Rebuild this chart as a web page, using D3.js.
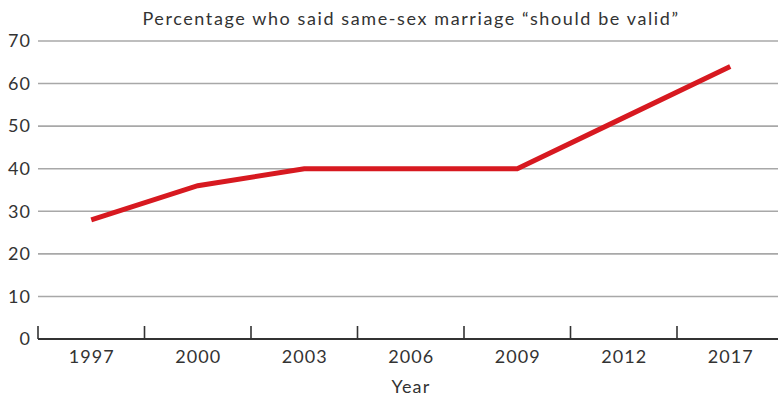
<!DOCTYPE html>
<html>
<head>
<meta charset="utf-8">
<script src="https://cdn.jsdelivr.net/npm/d3@7"></script>
<style>
  html, body { margin: 0; padding: 0; background: #fff; }
  svg { display: block; font-family: Lato, "Open Sans", sans-serif; }
</style>
</head>
<body>
<svg id="chart" width="778" height="398"></svg>
<script>
// Survey years and share (%) saying same-sex marriage "should be valid"
const years = ["1997", "2000", "2003", "2006", "2009", "2012", "2017"];
const values = [28, 36, 40, 40, 40, 52, 64];
const yTicks = [0, 10, 20, 30, 40, 50, 60, 70];
const titleText = "Percentage who said same-sex marriage \u201cshould be valid\u201d";
const xTitle = "Year";

const plot = { left: 38, right: 778, top: 41, bottom: 339 };
const band = 106.5;
const fontSize = 18;

const svg = d3.select("#chart");

const x = d3.scaleBand()
  .domain(years)
  .range([plot.left, plot.left + band * years.length])
  .paddingInner(0).paddingOuter(0);

const y = d3.scaleLinear().domain([0, 70]).range([plot.bottom, plot.top]);

// horizontal gridlines
svg.append("g")
  .selectAll("line")
  .data(yTicks.filter(d => d > 0))
  .join("line")
  .attr("x1", plot.left).attr("x2", plot.right)
  .attr("y1", d => y(d)).attr("y2", d => y(d))
  .attr("stroke", "#a8a8a8")
  .attr("stroke-width", 1.6);

// y tick labels
svg.append("g")
  .selectAll("text")
  .data(yTicks)
  .join("text")
  .attr("x", 31)
  .attr("y", d => y(d))
  .attr("dy", "0.35em")
  .attr("text-anchor", "end")
  .attr("font-size", fontSize)
  .attr("letter-spacing", 1)
  .attr("fill", "#333")
  .text(d => d);

// x axis baseline with tick marks at band boundaries
svg.append("line")
  .attr("x1", plot.left).attr("x2", plot.right)
  .attr("y1", plot.bottom).attr("y2", plot.bottom)
  .attr("stroke", "#333").attr("stroke-width", 2);

svg.append("g")
  .selectAll("line")
  .data(years)
  .join("line")
  .attr("x1", d => x(d)).attr("x2", d => x(d))
  .attr("y1", plot.bottom - 13).attr("y2", plot.bottom)
  .attr("stroke", "#333").attr("stroke-width", 1.6);

// x tick labels
svg.append("g")
  .selectAll("text")
  .data(years)
  .join("text")
  .attr("x", d => x(d) + x.bandwidth() / 2 + 0.5)
  .attr("y", 363)
  .attr("text-anchor", "middle")
  .attr("font-size", fontSize)
  .attr("letter-spacing", 1)
  .attr("fill", "#333")
  .text(d => d);

// axis title
svg.append("text")
  .attr("x", 411).attr("y", 393)
  .attr("text-anchor", "middle")
  .attr("font-size", fontSize)
  .attr("letter-spacing", 1.2)
  .attr("fill", "#333")
  .text(xTitle);

// chart title
svg.append("text")
  .attr("x", 411).attr("y", 25)
  .attr("text-anchor", "middle")
  .attr("font-size", fontSize)
  .attr("letter-spacing", 1.6)
  .attr("fill", "#333")
  .text(titleText);

// data line
const line = d3.line()
  .x((d, i) => x(years[i]) + x.bandwidth() / 2)
  .y(d => y(d));

svg.append("path")
  .datum(values)
  .attr("d", line)
  .attr("fill", "none")
  .attr("stroke", "#d71920")
  .attr("stroke-width", 5)
  .attr("stroke-linejoin", "miter");
</script>
</body>
</html>
